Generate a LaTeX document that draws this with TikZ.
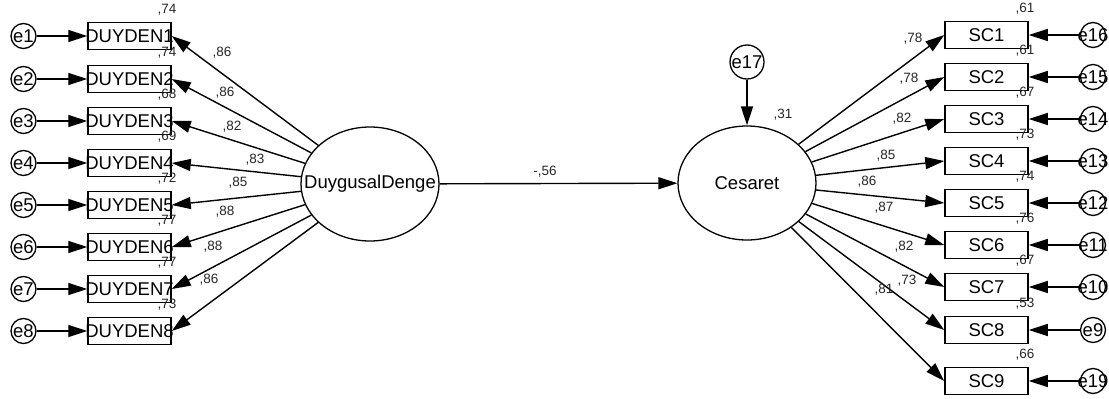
\documentclass[tikz,border=0pt]{standalone}
\usepackage{fontspec}
\setmainfont{Liberation Sans}
\usetikzlibrary{shapes.geometric,arrows.meta}
\tikzset{
  big/.style={font=\fontsize{18.5}{21}\selectfont},
  small/.style={font=\fontsize{13.5}{15}\selectfont, text=black!85, inner sep=0pt},
  obs/.style={draw, line width=1.5pt, rectangle, minimum width=83pt, minimum height=27pt, inner sep=0pt,
    label={[big, inner sep=0pt]center:#1}},
  errc/.style={draw, line width=1.3pt, circle, minimum size=25pt, inner sep=0pt,
    label={[big, inner sep=0pt]center:#1}},
  lat/.style={draw, line width=1.3pt, ellipse, minimum width=138pt, minimum height=114pt, inner sep=0pt,
    label={[big, inner sep=0pt]center:#1}},
  arr/.style={line width=1.4pt, -{Triangle[length=19pt,width=12pt]}},
}
\begin{document}
\begin{tikzpicture}[x=1pt,y=-1pt]
\useasboundingbox (0,0) rectangle (1109,399);
% latent variables
\node[lat=DuygusalDenge] (DD) at (370,184) {};
\node[lat=Cesaret] (CE) at (747,183) {};
\node[errc=e17, minimum size=34pt] (e17) at (747,62) {};
\draw[arr] (e17) -- (CE);
\node[small] (v31) at (783,115) {,31};
\draw[arr] (DD) -- (CE);
\node[small] (b56) at (545,172) {-,56};
% left indicators
\foreach \i/\y/\lo/\lx/\ly/\va in {
  1/36/86/222/53/74,
  2/79/86/225/93/74,
  3/121/82/232/127/68,
  4/163/83/255/160/69,
  5/205/85/238/183/72,
  6/247/88/225/212/77,
  7/289/88/213/247/77,
  8/331/86/209/280/73}{
  \node[obs=DUYDEN\i] (D\i) at (129.5,\y) {};
  \node[errc=e\i] (e\i) at (23.5,\y) {};
  \draw[arr] (e\i) -- (D\i.west);
  \draw[arr] (DD) -- (D\i.east);
  \node[small] (l\i) at (\lx,\ly) {,\lo};
  \node[small] (v\i) at (167,\y-26) {,\va};
}
% right indicators
\foreach \i/\y/\en/\lo/\lx/\ly/\va in {
  1/35/16/78/913/39/61,
  2/77/15/78/909/79/61,
  3/119/14/82/902/119/67,
  4/161/13/85/886/156/73,
  5/203/12/86/867/182/74,
  6/245/11/87/884/208/76,
  7/287/10/82/904/247/67,
  8/330/9/73/907/281/53,
  9/381/19/81/884/290/66}{
  \node[obs=SC\i] (S\i) at (986.5,\y) {};
  \node[errc=e\en] (r\i) at (1093,\y) {};
  \draw[arr] (r\i) -- (S\i.east);
  \draw[arr] (CE) -- (S\i.west);
  \node[small] (m\i) at (\lx,\ly) {,\lo};
  \node[small] (w\i) at (1025,\y-26) {,\va};
}
\end{tikzpicture}
\end{document}
